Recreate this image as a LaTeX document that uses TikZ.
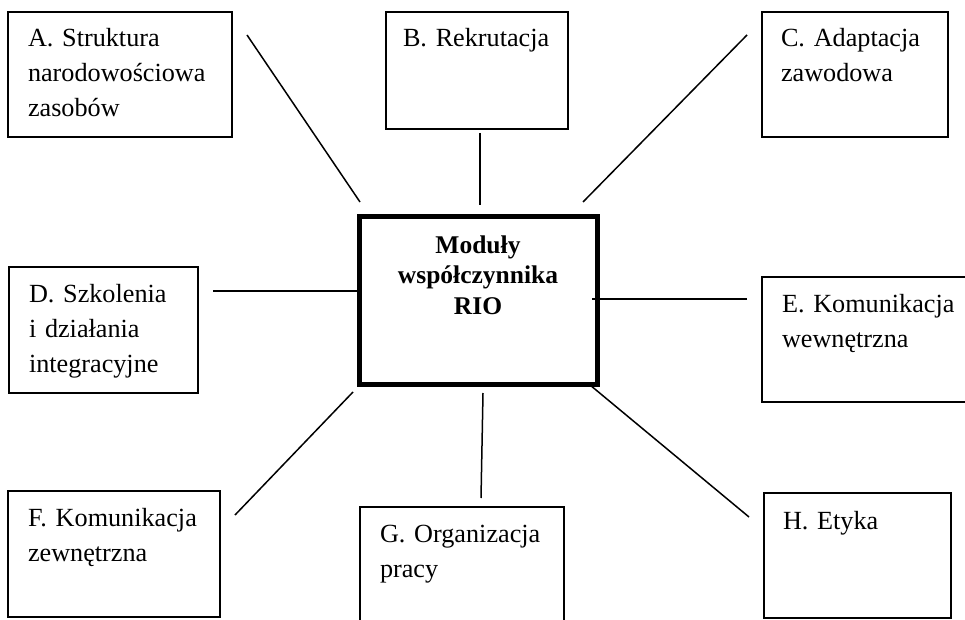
\documentclass[tikz,border=0pt]{standalone}
\usepackage{fontspec}
\setmainfont{Liberation Serif}
\begin{document}
\begin{tikzpicture}[
      x=1pt, y=-1pt,
      modbox/.style={draw, line width=1.4pt, anchor=north west, outer sep=0pt,
                     inner xsep=20pt, inner ysep=0pt, align=left,
                     text width=#1-40pt, text height=35pt, text depth=90pt,
                     font=\fontsize{26.2}{35}\selectfont},
      hub/.style={draw, line width=5pt, anchor=north west, outer sep=0pt,
                  inner xsep=0pt, inner ysep=0pt, align=center,
                  text width=238pt, text height=36pt, text depth=131pt,
                  font=\fontsize{25.5}{30.5}\selectfont\bfseries},
      link/.style={line width=1.5pt}
    ]
      \useasboundingbox (0,0) rectangle (965,620);
      \node[hub] (rio) at (359,217) {Moduły\\współczynnika\\RIO};
      \node[modbox=224pt] (a) at (8,12) {A. Struktura\\narodowościowa\\zasobów};
      \node[modbox=188pt, inner xsep=17pt, text depth=82pt] (b) at (386,12) {B. Rekrutacja};
      \node[modbox=188pt, inner xsep=19pt] (c) at (762,12) {C. Adaptacja\\zawodowa};
      \node[modbox=189pt, text depth=91pt] (d) at (9,267) {D. Szkolenia\\i działania\\integracyjne};
      \node[modbox=240pt] (e) at (762,277) {E. Komunikacja\\wewnętrzna};
      \node[modbox=212pt, text depth=91pt] (f) at (8,491) {F. Komunikacja\\zewnętrzna};
      \node[modbox=204pt, text depth=100pt] (g) at (360,507) {G. Organizacja\\pracy};
      \node[modbox=189pt, inner xsep=19pt, text height=36pt, text depth=89pt] (h) at (764,493) {H. Etyka};
      % free-floating spokes round the hub
      \foreach \n/\p/\q in {a/{247,35}/{360,202}, b/{480,133}/{480,205},
                            c/{747,35}/{583,202}, d/{213,291}/{358,291},
                            e/{747,299}/{592,299}, f/{235,515}/{353,392},
                            g/{481,498}/{483,393}, h/{749,517}/{590,385}} {
        \coordinate (\n-out) at (\p);
        \coordinate (\n-in)  at (\q);
        \draw[link] (\n-out) -- (\n-in);
      }
    \end{tikzpicture}
\end{document}
